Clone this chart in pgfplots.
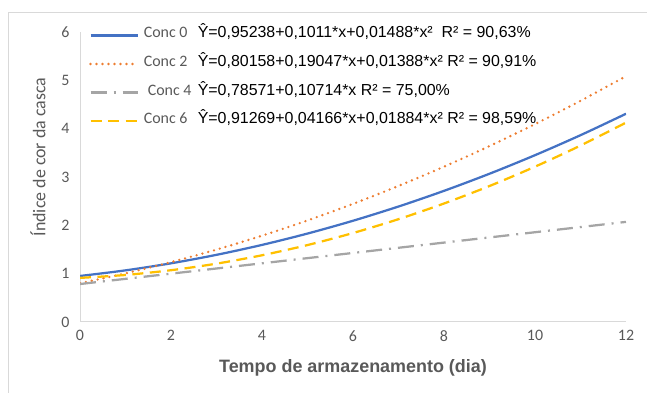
\documentclass[border=0pt]{standalone}
\usepackage{pgfplots}
\pgfplotsset{compat=1.18}
\usepackage{fontspec}
\setmainfont{Liberation Sans}
\newfontfamily\calibri{Carlito}
\definecolor{cblue}{HTML}{4472C4}
\definecolor{corange}{HTML}{ED7D31}
\definecolor{cgray}{HTML}{A5A5A5}
\definecolor{cyellow}{HTML}{FFC000}
\definecolor{tickgray}{HTML}{595959}
\definecolor{linegray}{HTML}{D9D9D9}
\begin{document}
\begin{tikzpicture}
\useasboundingbox (0,0) rectangle (647bp,393bp);
\draw[linegray, line width=0.75bp] (8bp,0bp) -- (8bp,381bp) -- (647bp,381bp);
\begin{axis}[
  at={(80bp,71bp)}, anchor=south west,
  scale only axis, width=546bp, height=290bp,
  xmin=0, xmax=12, ymin=0, ymax=6,
  xtick={0,2,4,6,8,10,12}, ytick={0,1,2,3,4,5,6},
  axis x line*=bottom, axis y line*=left,
  axis line style={draw=linegray, line width=1bp, -},
  major tick length=0pt, tick style={draw=none},
  /pgf/number format/assume math mode=true,
  ticklabel style={font=\calibri\fontsize{16}{18}\selectfont, text=tickgray},
  xticklabel style={yshift=-5bp},
  yticklabel style={xshift=-7bp},
  xlabel={Tempo de armazenamento (dia)},
  xlabel style={at={(axis description cs:0.5,-0.1586)}, anchor=center, font=\bfseries\fontsize{18}{21}\selectfont, text=tickgray},
  ylabel={Índice de cor da casca},
  ylabel style={at={(axis description cs:-0.0769,0.569)}, anchor=center, font=\calibri\fontsize{18}{21}\selectfont, text=tickgray},
  legend style={at={(axis description cs:0.0165,1.008)}, anchor=north west, draw=none, fill=none,
    inner sep=0pt, row sep=17.6bp,
    nodes={inner sep=0pt, text height=8bp, text depth=3bp, anchor=west},
    /tikz/every odd column/.append style={column sep=5bp}},
  legend cell align=left,
  legend image code/.code={\draw[#1] (0bp,0bp) -- (47bp,0bp);},
]
\addplot[cblue, line width=2.25bp, smooth] coordinates {
(0,0.9524) (1,1.0684) (2,1.2141) (3,1.3896) (4,1.5949) (5,1.8299) (6,2.0947)
(7,2.3892) (8,2.7135) (9,3.0676) (10,3.4514) (11,3.8650) (12,4.3083)};
\addlegendentry{\makebox[54bp][l]{\calibri\fontsize{16}{18}\selectfont\color{tickgray}Conc 0}{\fontsize{16}{19}\selectfont Ŷ=0,95238+0,1011*x+0,01488*x²\ \ R² = 90,63\%}}
\addplot[corange, line width=2.6bp, line cap=round, dash pattern=on 0bp off 6bp, smooth] coordinates {
(0,0.8016) (1,1.0059) (2,1.2380) (3,1.4979) (4,1.7855) (5,2.1009) (6,2.4441)
(7,2.8150) (8,3.2137) (9,3.6401) (10,4.0943) (11,4.5762) (12,5.0859)};
\addlegendentry{\makebox[54bp][l]{\calibri\fontsize{16}{18}\selectfont\color{tickgray}Conc 2}{\fontsize{16}{19}\selectfont Ŷ=0,80158+0,19047*x+0,01388*x² R² = 90,91\%}}
\addplot[cgray, line width=2.25bp, dash pattern=on 16bp off 7bp on 2bp off 7bp] coordinates {
(0,0.7857) (12,2.0714)};
\addlegendentry{\makebox[54bp][l]{\hspace{4bp}\calibri\fontsize{16}{18}\selectfont\color{tickgray}Conc 4}{\fontsize{16}{19}\selectfont Ŷ=0,78571+0,10714*x R² = 75,00\%}}
\addplot[cyellow, line width=2.25bp, dash pattern=on 11bp off 6.5bp, smooth] coordinates {
(0,0.9127) (1,0.9732) (2,1.0714) (3,1.2072) (4,1.3808) (5,1.5920) (6,1.8409)
(7,2.1275) (8,2.4517) (9,2.8137) (10,3.2133) (11,3.6506) (12,4.1256)};
\addlegendentry{\makebox[54bp][l]{\calibri\fontsize{16}{18}\selectfont\color{tickgray}Conc 6}{\fontsize{16}{19}\selectfont Ŷ=0,91269+0,04166*x+0,01884*x² R² = 98,59\%}}
\end{axis}
\end{tikzpicture}
\end{document}
